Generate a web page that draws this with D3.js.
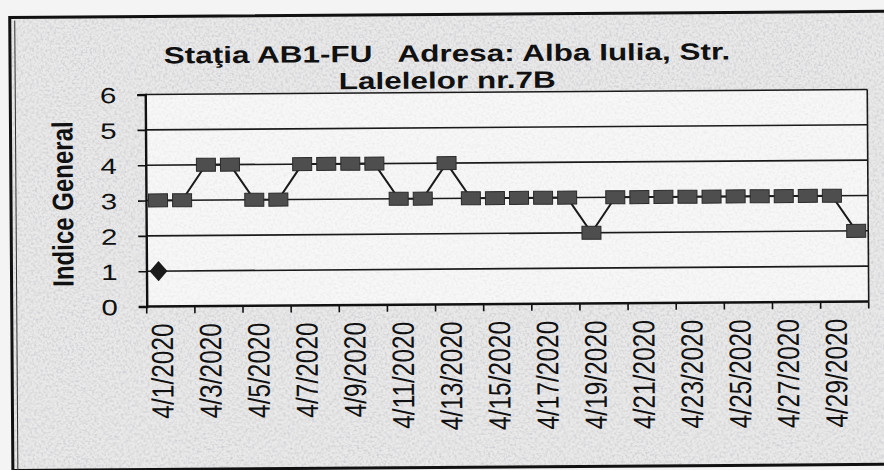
<!DOCTYPE html>
<html>
<head>
<meta charset="utf-8">
<script src="https://cdn.jsdelivr.net/npm/d3@7"></script>
<style>
  body { margin: 0; background: #f4f4f4; }
  svg { display: block; }
</style>
</head>
<body>
<div id="chart"></div>
<script>

// Data
const dates = ["4/1/2020","4/2/2020","4/3/2020","4/4/2020","4/5/2020","4/6/2020","4/7/2020","4/8/2020",
    "4/9/2020","4/10/2020","4/11/2020","4/12/2020","4/13/2020","4/14/2020","4/15/2020","4/16/2020",
    "4/17/2020","4/18/2020","4/19/2020","4/20/2020","4/21/2020","4/22/2020","4/23/2020","4/24/2020",
    "4/25/2020","4/26/2020","4/27/2020","4/28/2020","4/29/2020","4/30/2020"]
const indiceSquares = [3,3,4,4,3,3,4,4,4,4, 3,3,4,3,3,3,3,3,2,3, 3,3,3,3,3,3,3,3,3,2]
const indiceDiamond = [1,null,null,null,null,null,null,null,null,null,null,null,null,null,null,
    null,null,null,null,null,null,null,null,null,null,null,null,null,null,null]
const yTicks = [0,1,2,3,4,5,6]
const titleLines = ["Staţia AB1-FU   Adresa: Alba Iulia, Str.", "Lalelelor nr.7B"]
const yTitle = "Indice General"

const width = 884
const height = 470
const stretch = 1.34   // the scan is wider than tall, glyphs look stretched

const plot = {left: 146, right: 868, top: 92, bottom: 304}

const svg = d3.select("#chart").append("svg")
    .attr("width", width)
    .attr("height", height)

// speckled paper texture
const defs = svg.append("defs")
const f = defs.append("filter").attr("id", "speckle")
    .attr("x", 0).attr("y", 0).attr("width", 1).attr("height", 1)
f.append("feTurbulence")
    .attr("type", "fractalNoise")
    .attr("baseFrequency", 0.45)
    .attr("numOctaves", 2)
    .attr("seed", 7)
f.append("feColorMatrix")
    .attr("type", "matrix")
    .attr("values", "0 0 0 0 0.5  0 0 0 0 0.5  0 0 0 0 0.56  2.6 0 0 0 -1.1")

// the page was scanned slightly crooked
const g = svg.append("g")
    .attr("transform", "rotate(-0.4, 507, 200)")

// outer frame of the chart
g.append("rect")
    .attr("x", 11).attr("y", 14)
    .attr("width", 900).attr("height", 453)
    .attr("fill", "#e9e9e9")
g.append("rect")
    .attr("x", 11).attr("y", 14)
    .attr("width", 900).attr("height", 453)
    .attr("filter", "url(#speckle)")
    .attr("opacity", 0.6)

// plot area
g.append("rect")
    .attr("x", plot.left).attr("y", plot.top)
    .attr("width", plot.right - plot.left).attr("height", plot.bottom - plot.top)
    .attr("fill", "#f7f7f7")
g.append("rect")
    .attr("x", plot.left).attr("y", plot.top)
    .attr("width", plot.right - plot.left).attr("height", plot.bottom - plot.top)
    .attr("filter", "url(#speckle)")
    .attr("opacity", 0.2)

g.append("rect")
    .attr("x", 11).attr("y", 14)
    .attr("width", 900).attr("height", 453)
    .attr("fill", "none")
    .attr("stroke", "#111")
    .attr("stroke-width", 3)
g.append("line")
    .attr("x1", 16).attr("x2", 16).attr("y1", 17).attr("y2", 467)
    .attr("stroke", "#333").attr("stroke-width", 1)

//Scales
const x = d3.scaleBand()
    .domain(dates)
    .range([plot.left, plot.right])

const y = d3.scaleLinear()
    .domain([0, 6])
    .range([plot.bottom, plot.top])

//Gridlines
g.append("g")
    .selectAll("line")
    .data(yTicks.filter(d => d > 0))
    .join("line")
        .attr("x1", plot.left)
        .attr("x2", plot.right)
        .attr("y1", d => y(d))
        .attr("y2", d => y(d))
        .attr("stroke", "#1a1a1a")
        .attr("stroke-width", 1.6)

// right edge of the plot box
g.append("line")
    .attr("x1", plot.right).attr("x2", plot.right)
    .attr("y1", plot.top).attr("y2", plot.bottom)
    .attr("stroke", "#1a1a1a").attr("stroke-width", 1.6)

//Y axis
const yAxis = g.append("g")
    .attr("transform", `translate(${plot.left},0)`)
    .call(d3.axisLeft(y).tickValues(yTicks).tickSize(8).tickFormat(d3.format("d")))
yAxis.select(".domain").attr("stroke", "#111").attr("stroke-width", 2.4)
yAxis.selectAll(".tick line").attr("stroke", "#111").attr("stroke-width", 1.6)
yAxis.selectAll(".tick text")
    .attr("x", null).attr("dy", null)
    .attr("font-family", "Liberation Sans, Arial, sans-serif")
    .attr("font-size", 22)
    .attr("fill", "#111")
    .attr("text-anchor", "end")
    .attr("transform", `translate(-29,8) scale(${stretch},1)`)

//X axis: ticks on every second category boundary
const xAxis = g.append("g")
    .attr("transform", `translate(0,${plot.bottom})`)
xAxis.append("line")
    .attr("x1", plot.left).attr("x2", plot.right)
    .attr("stroke", "#111").attr("stroke-width", 2.4)
xAxis.selectAll("line.tick")
    .data(dates.filter((d, i) => i % 2 == 0).concat([null]))
    .join("line")
        .attr("class", "tick")
        .attr("x1", d => d ? x(d) : plot.right)
        .attr("x2", d => d ? x(d) : plot.right)
        .attr("y1", 0).attr("y2", 7)
        .attr("stroke", "#111").attr("stroke-width", 1.6)
xAxis.selectAll("text")
    .data(dates.filter((d, i) => i % 2 == 0))
    .join("text")
        .attr("transform", d => `translate(${x(d) + x.bandwidth() / 2 + 14},17) rotate(-90) scale(1,1.25)`)
        .attr("text-anchor", "end")
        .attr("font-family", "Liberation Sans, Arial, sans-serif")
        .attr("font-size", 24.5)
        .attr("fill", "#111")
        .text(d => d)

//Line and markers
const cx = d => x(d) + x.bandwidth() / 2

const line = d3.line()
    .defined(d => d.v != null)
    .x(d => cx(d.date))
    .y(d => y(d.v))

const squares = dates.map((d, i) => ({date: d, v: indiceSquares[i]}))
const diamonds = dates.map((d, i) => ({date: d, v: indiceDiamond[i]}))

g.append("path")
    .datum(squares)
    .attr("d", line)
    .attr("fill", "none")
    .attr("stroke", "#1a1a1a")
    .attr("stroke-width", 2)

g.append("g")
    .selectAll("rect")
    .data(squares)
    .join("rect")
        .attr("x", d => cx(d.date) - 9.5)
        .attr("y", d => y(d.v) - 6.5)
        .attr("width", 19)
        .attr("height", 13)
        .attr("fill", "#4e4e4e")
        .attr("stroke", "#2a2a2a")
        .attr("stroke-width", 1)

g.append("g")
    .selectAll("path")
    .data(diamonds.filter(d => d.v != null))
    .join("path")
        .attr("d", d3.symbol(d3.symbolDiamond, 130))
        .attr("transform", d => `translate(${cx(d.date)},${y(d.v)}) scale(1.45,0.95)`)
        .attr("fill", "#1a1a1a")

//Titles
g.append("text")
    .attr("transform", `translate(73,${(plot.top + plot.bottom) / 2 + 3}) rotate(-90) scale(1,1.22)`)
    .attr("text-anchor", "middle")
    .attr("font-family", "Liberation Sans, Arial, sans-serif")
    .attr("font-weight", "bold")
    .attr("font-size", 24)
    .attr("fill", "#111")
    .text(yTitle)

g.append("g")
    .selectAll("text")
    .data(titleLines)
    .join("text")
        .attr("transform", (d, i) => `translate(448,${61 + i * 27}) scale(${stretch},1)`)
        .attr("text-anchor", "middle")
        .attr("font-family", "Liberation Sans, Arial, sans-serif")
        .attr("font-weight", "bold")
        .attr("font-size", 23.5)
        .attr("fill", "#111")
        .style("white-space", "pre")
        .text(d => d)

</script>
</body>
</html>
